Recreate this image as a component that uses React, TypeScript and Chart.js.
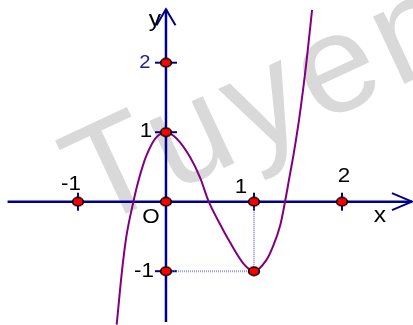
import React, { useEffect, useRef } from "react";
import { Chart, registerables } from "chart.js";

Chart.register(...registerables);

// Curve of the function
const curveX = [-0.56, -0.5, -0.45, -0.37, -0.33, -0.26, -0.22, -0.12, 0, 0.12, 0.27, 0.39, 0.48, 0.63, 0.69, 0.88, 1.0, 1.14, 1.21, 1.3, 1.35, 1.41, 1.45, 1.52, 1.6, 1.66];
const curveY = [-1.77, -1.0, -0.5, 0, 0.22, 0.53, 0.67, 0.91, 1.0, 0.91, 0.65, 0.34, 0.02, -0.36, -0.5, -0.89, -1.0, -0.84, -0.66, -0.33, -0.02, 0.4, 0.68, 1.25, 2.05, 2.76];

// Marked points
const markX = [-1, 0, 1, 2, 0, 0, 0, 1];
const markY = [0, 0, 0, 0, 1, 2, -1, -1];

// Dotted guide lines to the minimum (0,-1) -> (1,-1) -> (1,0)
const guideX = [0, 1, 1];
const guideY = [-1, -1, 0];

// Tick values and labels
const xTickValues = [-1, 1, 2];
const xTickLabels = ["-1", "1", "2"];
const yTickValues = [2, 1, -1];
const yTickLabels = ["2", "1", "-1"];
const originLabel = "O";
const xAxisLabel = "x";
const yAxisLabel = "y";
const watermark = "Tuyen";

// Axis extents
const xAxisRange = [-1.8, 2.795];
const yAxisRange = [-1.73, 2.77];
const xView = [-1.886, 2.807];
const yView = [-1.774, 2.902];

const AXIS = "#00008c";
const FONT = "Arial, 'Liberation Sans', sans-serif";

function makeEllipse(): HTMLCanvasElement {
  const c = document.createElement("canvas");
  c.width = 14;
  c.height = 11;
  const g = c.getContext("2d")!;
  g.beginPath();
  g.ellipse(7, 5.5, 5.4, 4.2, 0, 0, Math.PI * 2);
  g.fillStyle = "#ff0000";
  g.fill();
  g.lineWidth = 1.6;
  g.strokeStyle = "#000000";
  g.stroke();
  return c;
}

function text(ctx: CanvasRenderingContext2D, s: string, x: number, y: number, color: string, size: number) {
  ctx.save();
  ctx.translate(x, y);
  ctx.scale(1.12, 1);
  ctx.font = `${size}px ${FONT}`;
  ctx.fillStyle = color;
  ctx.textAlign = "center";
  ctx.textBaseline = "middle";
  ctx.fillText(s, 0, 0);
  ctx.restore();
}

const backgroundPlugin = {
  id: "axesBg",
  beforeDatasetsDraw(chart: any) {
    const ctx: CanvasRenderingContext2D = chart.ctx;
    const xs = chart.scales.x;
    const ys = chart.scales.y;
    const x0 = xs.getPixelForValue(0);
    const y0 = ys.getPixelForValue(0);
    // watermark
    ctx.save();
    ctx.translate(93, 229);
    ctx.rotate((-25 * Math.PI) / 180);
    ctx.font = `140px ${FONT}`;
    (ctx as any).letterSpacing = "7px";
    ctx.fillStyle = "#d9d9d9";
    ctx.textBaseline = "alphabetic";
    ctx.textAlign = "left";
    ctx.fillText(watermark, 0, 0);
    ctx.restore();

    ctx.save();
    ctx.strokeStyle = AXIS;
    ctx.lineWidth = 2.5;
    ctx.lineCap = "butt";
    // x axis
    const xa = xs.getPixelForValue(xAxisRange[0]);
    const xb = xs.getPixelForValue(xAxisRange[1]);
    ctx.beginPath();
    ctx.moveTo(xa, y0);
    ctx.lineTo(xb, y0);
    ctx.stroke();
    // y axis
    const ya = ys.getPixelForValue(yAxisRange[0]);
    const yb = ys.getPixelForValue(yAxisRange[1]);
    ctx.beginPath();
    ctx.moveTo(x0, ya);
    ctx.lineTo(x0, yb);
    ctx.stroke();
    // arrows
    ctx.lineWidth = 2;
    ctx.beginPath();
    ctx.moveTo(xb - 20, y0 - 8.5);
    ctx.lineTo(xb, y0);
    ctx.lineTo(xb - 20, y0 + 8.5);
    ctx.stroke();
    ctx.beginPath();
    ctx.moveTo(x0 - 9.5, yb + 16);
    ctx.lineTo(x0, yb);
    ctx.lineTo(x0 + 9.5, yb + 16);
    ctx.stroke();
    // ticks
    ctx.lineWidth = 2;
    xTickValues.forEach((v) => {
      const px = xs.getPixelForValue(v);
      ctx.beginPath();
      ctx.moveTo(px, y0 - 9);
      ctx.lineTo(px, y0 + 9);
      ctx.stroke();
    });
    yTickValues.forEach((v) => {
      const py = ys.getPixelForValue(v);
      ctx.beginPath();
      ctx.moveTo(x0 - 11, py);
      ctx.lineTo(x0 + 11, py);
      ctx.stroke();
    });
    ctx.restore();
  },
  afterDatasetsDraw(chart: any) {
    const ctx: CanvasRenderingContext2D = chart.ctx;
    const xs = chart.scales.x;
    const ys = chart.scales.y;
    const x0 = xs.getPixelForValue(0);
    const y0 = ys.getPixelForValue(0);
    const xOff = [[-7, -17], [-13, -14], [2, -25]];
    const yOff = [[-21, 0], [-20, -1], [-22, 0]];
    xTickValues.forEach((v, i) => {
      text(ctx, xTickLabels[i], xs.getPixelForValue(v) + xOff[i][0], y0 + xOff[i][1], "#000000", 20);
    });
    yTickValues.forEach((v, i) => {
      const color = i === 0 ? "#1a1a9a" : "#000000";
      const size = i === 0 ? 18 : 20;
      text(ctx, yTickLabels[i], x0 + yOff[i][0], ys.getPixelForValue(v) + yOff[i][1], color, size);
    });
    text(ctx, originLabel, x0 - 15, y0 + 16, "#000000", 20);
    text(ctx, xAxisLabel, xs.getPixelForValue(xAxisRange[1]) - 32, y0 + 14, "#000000", 22);
    text(ctx, yAxisLabel, x0 - 11, ys.getPixelForValue(yAxisRange[1]) + 11, "#000000", 22);
  },
};

export default function App() {
  const ref = useRef<HTMLCanvasElement | null>(null);
  useEffect(() => {
    if (!ref.current) return;
    const ellipse = makeEllipse();
    const chart = new Chart(ref.current, {
      type: "scatter",
      data: {
        datasets: [
          {
            data: markX.map((x, i) => ({ x, y: markY[i] })),
            pointStyle: ellipse as any,
            pointRadius: 6,
            showLine: false,
            order: 0,
          },
          {
            data: curveX.map((x, i) => ({ x, y: curveY[i] })),
            showLine: true,
            borderColor: "#800080",
            borderWidth: 2,
            pointRadius: 0,
            cubicInterpolationMode: "monotone",
            order: 1,
          },
          {
            data: guideX.map((x, i) => ({ x, y: guideY[i] })),
            showLine: true,
            borderColor: "rgba(100,100,210,0.65)",
            borderWidth: 2,
            borderDash: [1, 1],
            pointRadius: 0,
            order: 2,
          },
        ],
      } as any,
      options: {
        animation: false,
        responsive: false,
        layout: { padding: 0, autoPadding: false },
        plugins: { legend: { display: false }, tooltip: { enabled: false } },
        scales: {
          x: { type: "linear", display: false, min: xView[0], max: xView[1] },
          y: { type: "linear", display: false, min: yView[0], max: yView[1] },
        },
      } as any,
      plugins: [backgroundPlugin],
    });
    return () => chart.destroy();
  }, []);
  return (
    <div style={{ position: "absolute", left: 0, top: 0, width: 413, height: 325, background: "#ffffff" }}>
      <canvas ref={ref} width={413} height={325} style={{ display: "block" }} />
    </div>
  );
}
